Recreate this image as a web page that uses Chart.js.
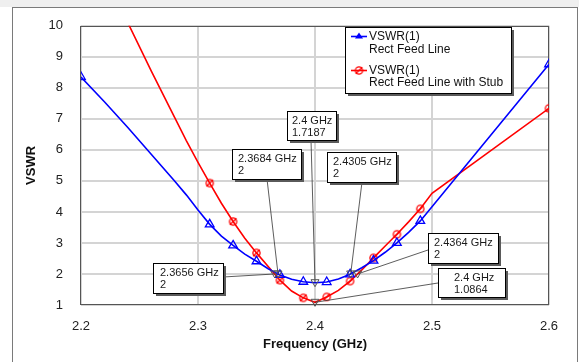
<!DOCTYPE html>
<html><head><meta charset="utf-8">
<script src="https://cdn.jsdelivr.net/npm/chart.js@4.4.1/dist/chart.umd.min.js"></script>
<style>html,body{margin:0;padding:0;background:#fff;}canvas{display:block;}</style>
</head><body>
<canvas id="c" width="579" height="362"></canvas>
<script>
// ---- data ----
const freqGHz = [2.2, 2.22, 2.24, 2.26, 2.28, 2.29, 2.30, 2.31, 2.32, 2.33, 2.34, 2.35, 2.36, 2.37, 2.38, 2.39, 2.40,
                 2.41, 2.42, 2.43, 2.44, 2.45, 2.46, 2.47, 2.48, 2.49, 2.50, 2.60];
const vswrRectFeed = [8.35, 7.55, 6.72, 5.86, 5.0, 4.55, 4.06, 3.6, 3.22, 2.92, 2.64, 2.41, 2.17, 1.97, 1.83, 1.75, 1.7187,
                      1.74, 1.84, 1.99, 2.2, 2.43, 2.7, 3.0, 3.34, 3.71, 4.17, 8.76];
const vswrRectFeedStub = [13.2, 11.65, 10.1, 8.55, 7.05, 6.3, 5.6, 4.93, 4.28, 3.69, 3.15, 2.68, 2.24, 1.8, 1.45, 1.23, 1.0864,
                          1.26, 1.47, 1.77, 2.13, 2.52, 2.9, 3.28, 3.68, 4.10, 4.60, 7.34];
const markedFreqs = [2.2, 2.31, 2.33, 2.35, 2.37, 2.39, 2.41, 2.43, 2.45, 2.47, 2.49, 2.6];
const xTickLabels = ['2.2', '2.3', '2.4', '2.5', '2.6'];
const yTickLabels = ['1', '2', '3', '4', '5', '6', '7', '8', '9', '10'];
const seriesNames = [['VSWR(1)', 'Rect Feed Line'], ['VSWR(1)', 'Rect Feed Line with Stub']];
const markerFreqs = [2.3656, 2.3684, 2.4, 2.4305, 2.4364, 2.4];
const markerValues = [2, 2, 1.7187, 2, 2, 1.0864];
const markerFreqText = ['2.3656 GHz', '2.3684 GHz', '2.4 GHz', '2.4305 GHz', '2.4364 GHz', '2.4 GHz'];
const markerValueText = ['2', '2', '1.7187', '2', '2', '1.0864'];

// ---- layout of the marker boxes (pixels) ----
const markerBoxes = [
  {x: 153, y: 263, w: 70, h: 30, tx: 7,  ax: 223, ay: 277},
  {x: 232, y: 149, w: 69, h: 30, tx: 6,  ax: 267, ay: 179},
  {x: 287, y: 111, w: 49, h: 29, tx: 5,  ax: 311, ay: 140},
  {x: 327, y: 152, w: 69, h: 30, tx: 6,  ax: 362, ay: 182},
  {x: 428, y: 233, w: 70, h: 30, tx: 6,  ax: 428, ay: 250},
  {x: 438, y: 268, w: 67, h: 29, tx: 16, ax: 438, ay: 283}
];
const FONT = '"Liberation Sans", Arial, sans-serif';
const BLUE = '#0000ff', RED = '#ff0000';

function makeRedMarker() {
  const c = document.createElement('canvas');
  c.width = 11; c.height = 11;
  const g = c.getContext('2d');
  g.strokeStyle = RED; g.lineWidth = 1.3;
  g.beginPath(); g.arc(5.5, 5.5, 3.6, 0, Math.PI * 2); g.stroke();
  g.beginPath(); g.moveTo(2.2, 8.8); g.lineTo(8.8, 2.2); g.stroke();
  return c;
}
const redMarker = makeRedMarker();
const isMarked = f => markedFreqs.some(m => Math.abs(m - f) < 1e-6);

const decor = {
  id: 'decor',
  beforeDraw(chart) {
    const ctx = chart.ctx;
    ctx.save();
    ctx.fillStyle = '#ffffff'; ctx.fillRect(0, 0, 579, 362);
    ctx.fillStyle = '#efefef'; ctx.fillRect(0, 0, 579, 7);
    ctx.strokeStyle = '#7a7a7a'; ctx.lineWidth = 1;
    ctx.strokeRect(12.5, 7.5, 565, 380);
    ctx.restore();
  },
  beforeDatasetsDraw(chart) {
    const ctx = chart.ctx, a = chart.chartArea;
    ctx.save();
    ctx.strokeStyle = '#555'; ctx.lineWidth = 1;
    ctx.strokeRect(Math.round(a.left) - 0.5, Math.round(a.top) + 0.5,
                   Math.round(a.right - a.left), Math.round(a.bottom - a.top) - 1);
    ctx.restore();
  },
  afterDatasetsDraw(chart) {
    const ctx = chart.ctx, xs = chart.scales.x, ys = chart.scales.y;
    ctx.save();
    ctx.strokeStyle = '#333'; ctx.lineWidth = 0.8;
    markerBoxes.forEach((b, i) => {
      const px = xs.getPixelForValue(markerFreqs[i]), py = ys.getPixelForValue(markerValues[i]);
      ctx.beginPath(); ctx.moveTo(b.ax, b.ay); ctx.lineTo(px, py); ctx.stroke();
    });
    ctx.strokeStyle = '#555'; ctx.lineWidth = 1;
    markerBoxes.forEach((b, i) => {
      const px = xs.getPixelForValue(markerFreqs[i]), py = ys.getPixelForValue(markerValues[i]);
      ctx.beginPath();
      ctx.moveTo(px - 4, py - 3); ctx.lineTo(px + 4, py - 3); ctx.lineTo(px, py + 4); ctx.closePath();
      ctx.stroke();
    });
    markerBoxes.forEach((b, i) => {
      ctx.fillStyle = '#5a5a5a'; ctx.fillRect(b.x + 3, b.y + 3, b.w, b.h);
      ctx.fillStyle = '#ffffff'; ctx.fillRect(b.x, b.y, b.w, b.h);
      ctx.strokeStyle = '#000'; ctx.lineWidth = 1; ctx.strokeRect(b.x + 0.5, b.y + 0.5, b.w, b.h);
      ctx.fillStyle = '#1a1a1a'; ctx.font = '11px ' + FONT; ctx.textBaseline = 'middle'; ctx.textAlign = 'left';
      ctx.fillText(markerFreqText[i], b.x + b.tx, b.y + 9.5);
      ctx.fillText(markerValueText[i], b.x + b.tx, b.y + 21.5);
    });
    const L = {x: 345, y: 27, w: 166, h: 66};
    ctx.fillStyle = '#5a5a5a'; ctx.fillRect(L.x + 3, L.y + 3, L.w, L.h);
    ctx.fillStyle = '#ffffff'; ctx.fillRect(L.x, L.y, L.w, L.h);
    ctx.strokeStyle = '#000'; ctx.lineWidth = 1; ctx.strokeRect(L.x + 0.5, L.y + 0.5, L.w, L.h);
    ctx.strokeStyle = BLUE; ctx.lineWidth = 1.6;
    ctx.beginPath(); ctx.moveTo(351, 36.5); ctx.lineTo(367, 36.5); ctx.stroke();
    ctx.fillStyle = BLUE;
    ctx.beginPath(); ctx.moveTo(359, 32.5); ctx.lineTo(363, 38.5); ctx.lineTo(355, 38.5); ctx.closePath(); ctx.fill();
    ctx.strokeStyle = RED; ctx.lineWidth = 1.6;
    ctx.beginPath(); ctx.moveTo(351, 70.5); ctx.lineTo(367, 70.5); ctx.stroke();
    ctx.drawImage(redMarker, 359 - 5.5, 70.5 - 5.5);
    ctx.fillStyle = '#111'; ctx.font = '12px ' + FONT; ctx.textBaseline = 'middle';
    ctx.fillText(seriesNames[0][0], 369, 36.5);
    ctx.fillText(seriesNames[0][1], 369, 50);
    ctx.fillText(seriesNames[1][0], 369, 70.5);
    ctx.fillText(seriesNames[1][1], 369, 83);
    ctx.restore();
  }
};

new Chart(document.getElementById('c'), {
  type: 'line',
  data: {
    datasets: [
      {
        label: seriesNames[0].join(' '),
        data: freqGHz.map((f, i) => ({x: f, y: vswrRectFeed[i]})),
        borderColor: BLUE, borderWidth: 1.6, tension: 0,
        pointStyle: 'triangle',
        pointRadius: freqGHz.map(f => isMarked(f) ? 5 : 0),
        pointBorderColor: BLUE, pointBackgroundColor: 'rgba(0,0,0,0)', pointBorderWidth: 1.3
      },
      {
        label: seriesNames[1].join(' '),
        data: freqGHz.map((f, i) => ({x: f, y: vswrRectFeedStub[i]})),
        borderColor: RED, borderWidth: 1.6, tension: 0,
        pointStyle: freqGHz.map(f => isMarked(f) ? redMarker : false),
        pointRadius: freqGHz.map(f => isMarked(f) ? 5 : 0),
        pointBorderColor: RED, pointBackgroundColor: 'rgba(0,0,0,0)'
      }
    ]
  },
  options: {
    responsive: false, animation: false, devicePixelRatio: 1,
    layout: {padding: {left: 0, right: 30, top: 22, bottom: 0}},
    plugins: {legend: {display: false}, tooltip: {enabled: false}},
    scales: {
      x: {
        type: 'linear', min: 2.2, max: 2.6,
        afterBuildTicks: s => { s.ticks = xTickLabels.map(t => ({value: parseFloat(t)})); },
        ticks: {callback: (v, i) => xTickLabels[i], font: {family: FONT, size: 13}, color: '#222',
                padding: 14, maxRotation: 0, autoSkip: false},
        grid: {color: '#d4d4d4', lineWidth: 2, drawTicks: false},
        border: {display: false},
        title: {display: true, text: 'Frequency (GHz)', font: {family: FONT, size: 13, weight: 'bold'},
                color: '#111', padding: {top: 0, bottom: 10}},
        afterFit: s => { s.height = 57; }
      },
      y: {
        type: 'linear', min: 1, max: 10,
        afterBuildTicks: s => { s.ticks = yTickLabels.map(t => ({value: parseFloat(t)})); },
        ticks: {callback: (v, i) => yTickLabels[i], font: {family: FONT, size: 13}, color: '#222',
                padding: 18, autoSkip: false},
        grid: {color: '#d4d4d4', lineWidth: 2, drawTicks: false},
        border: {display: false},
        title: {display: true, text: 'VSWR', font: {family: FONT, size: 13, weight: 'bold'},
                color: '#111', padding: {top: 24, bottom: 0}},
        afterFit: s => { s.width = 81; }
      }
    }
  },
  plugins: [decor]
});
</script>
</body></html>
